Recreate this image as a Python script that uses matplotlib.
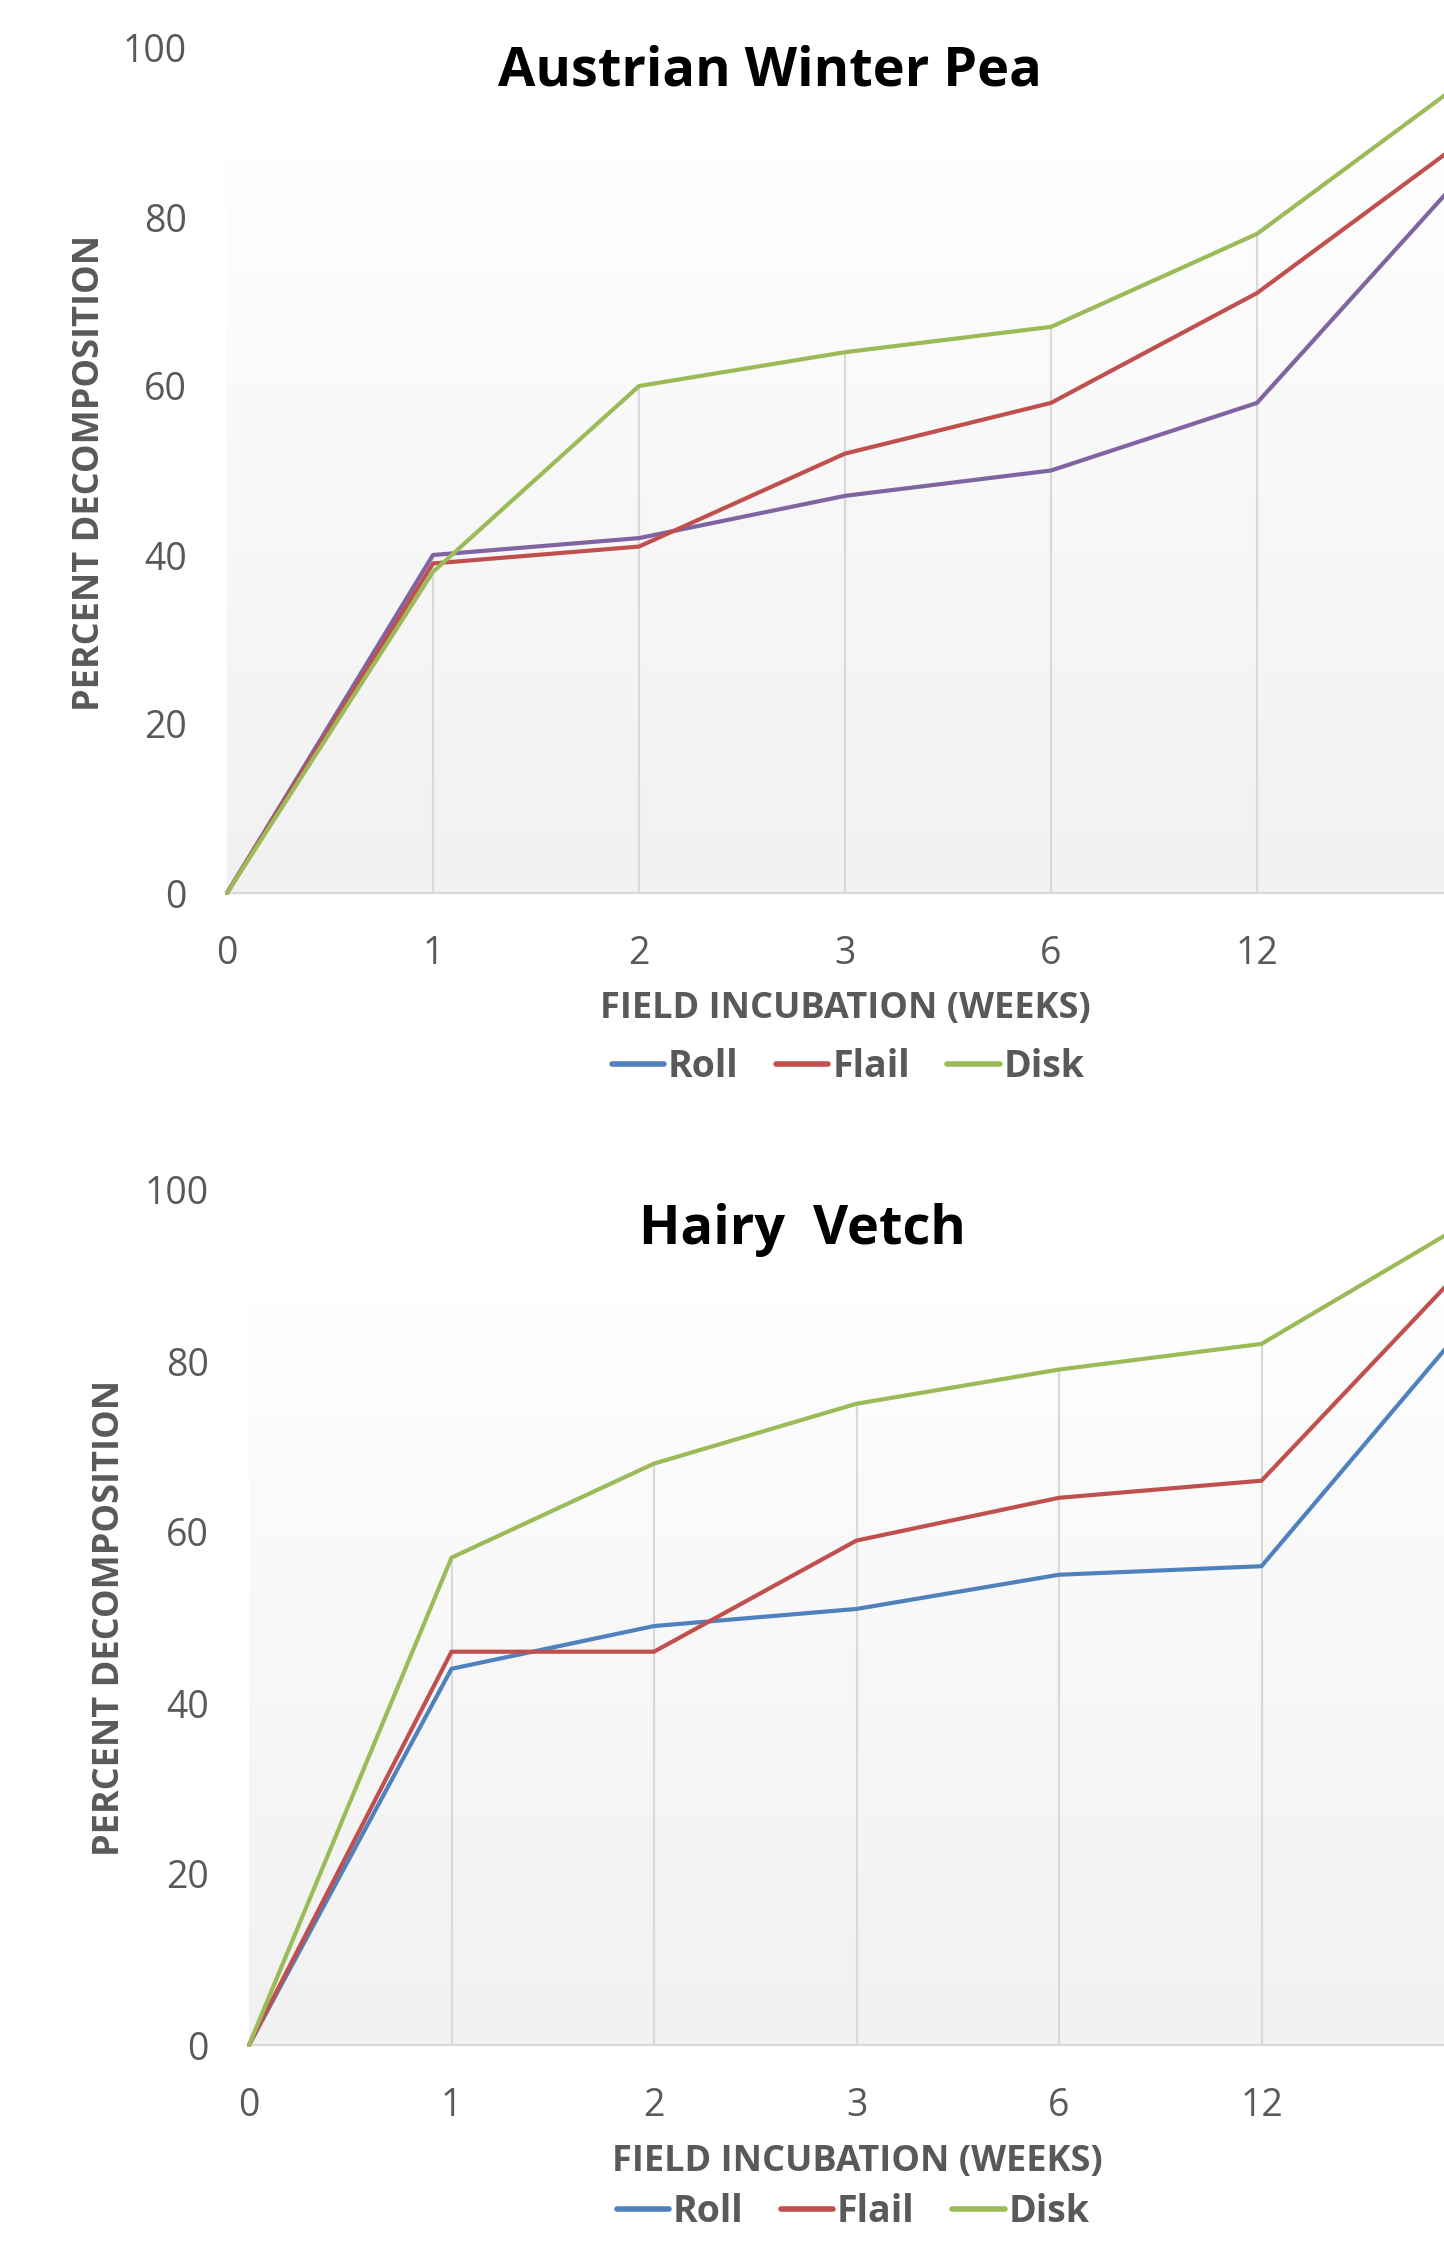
import numpy as np
import matplotlib
matplotlib.use("Agg")
import matplotlib.pyplot as plt
from matplotlib.colors import LinearSegmentedColormap
from matplotlib.lines import Line2D

# ── data ──────────────────────────────────────────────────────────
weeks = ["0", "1", "2", "3", "6", "12", "24"]
series_names = ["Roll", "Flail", "Disk"]

pea_roll  = [0, 40, 42, 47, 50, 58, 85]
pea_flail = [0, 39, 41, 52, 58, 71, 89]
pea_disk  = [0, 38, 60, 64, 67, 78, 96]

vetch_roll  = [0, 44, 49, 51, 55, 56, 84]
vetch_flail = [0, 46, 46, 59, 64, 66, 91]
vetch_disk  = [0, 57, 68, 75, 79, 82, 96]

# ── style ─────────────────────────────────────────────────────────
BLUE, RED, GREEN, PURPLE = "#4F81BD", "#C0504D", "#9BBB59", "#8064A2"
GRAY_TXT = "#595959"
GRID = "#D9D9D9"
FONT = "Open Sans"
W, H = 1444, 2241

plt.rcParams["font.family"] = [FONT, "DejaVu Sans"]

fig = plt.figure(figsize=(W / 100, H / 100), dpi=100)
fig.patch.set_facecolor("white")

bg_cmap = LinearSegmentedColormap.from_list("bg", ["#F1F1F1", "#FEFEFE"])


def fx(px):
    return px / W


def fy(py):
    return 1 - py / H


def draw_panel(rect, roll, flail, disk, roll_color):
    ax = fig.add_axes(rect)
    ax.set_facecolor("white")
    x = np.arange(len(weeks))

    # gradient plot-area fill (white band at top where the title box sits)
    grad = np.linspace(0, 1, 256).reshape(-1, 1)
    ax.imshow(grad, extent=[0, 1, 0, 0.87], transform=ax.transAxes,
              origin="lower", aspect="auto", cmap=bg_cmap, zorder=0)

    # drop lines from highest point to the axis
    tops = np.max([roll, flail, disk], axis=0)
    ax.vlines(x[1:], 0, tops[1:], color=GRID, lw=1.6, zorder=1)

    for vals, col in [(roll, roll_color), (flail, RED), (disk, GREEN)]:
        ax.plot(x, vals, color=col, lw=3.0, solid_joinstyle="round",
                solid_capstyle="round", clip_on=False, zorder=3)

    ax.set_xlim(0, len(weeks) - 1)
    ax.set_ylim(0, 100)
    ax.set_xticks(x)
    ax.set_xticklabels(weeks)
    ax.set_yticks(range(0, 101, 20))
    ax.tick_params(length=0, labelsize=27, labelcolor=GRAY_TXT)
    ax.tick_params(axis="x", pad=30)
    ax.tick_params(axis="y", pad=29)
    for s in ["left", "right", "top"]:
        ax.spines[s].set_visible(False)
    ax.spines["bottom"].set_color(GRID)
    ax.spines["bottom"].set_linewidth(1.6)
    ax.spines["bottom"].set_zorder(2)
    return ax


# ── top: Austrian Winter Pea ──────────────────────────────────────
draw_panel([fx(227), fy(893), fx(1463 - 227), (893 - 48) / H],
           pea_roll, pea_flail, pea_disk, PURPLE)

# ── bottom: Hairy Vetch ───────────────────────────────────────────
draw_panel([fx(249), fy(2045), fx(1464 - 249), (2045 - 1190) / H],
           vetch_roll, vetch_flail, vetch_disk, BLUE)

# titles and axis titles
fig.text(fx(770), fy(71), "Austrian Winter Pea", fontsize=39,
         fontweight="bold", color="black", ha="center", va="center")
fig.text(fx(802), fy(1230), "Hairy  Vetch", fontsize=39,
         fontweight="bold", color="black", ha="center", va="center")

for (xl, yl), (yx, yy) in [((845, 1009), (90, 473)),
                           ((857, 2162), (110, 1618))]:
    fig.text(fx(xl), fy(yl), "FIELD INCUBATION (WEEKS)", fontsize=26,
             fontweight="bold", color=GRAY_TXT, ha="center", va="center")
    fig.text(fx(yx), fy(yy), "PERCENT DECOMPOSITION", fontsize=26,
             fontweight="bold", color=GRAY_TXT, ha="center", va="center",
             rotation=90)

# legends (Roll handle is blue in both, as in the original)
handles = [Line2D([], [], color=c, lw=4, solid_capstyle="round")
           for c in [BLUE, RED, GREEN]]
for lx, ly in [(848, 1067), (853, 2212)]:
    leg = fig.legend(handles, series_names, loc="center",
                     bbox_to_anchor=(fx(lx), fy(ly)), ncol=3, frameon=False,
                     handlelength=1.4, handletextpad=0.1, columnspacing=1.0,
                     prop={"family": FONT, "weight": "bold", "size": 27})
    for t in leg.get_texts():
        t.set_color(GRAY_TXT)

fig.savefig("out.png", dpi=100, facecolor="white")
